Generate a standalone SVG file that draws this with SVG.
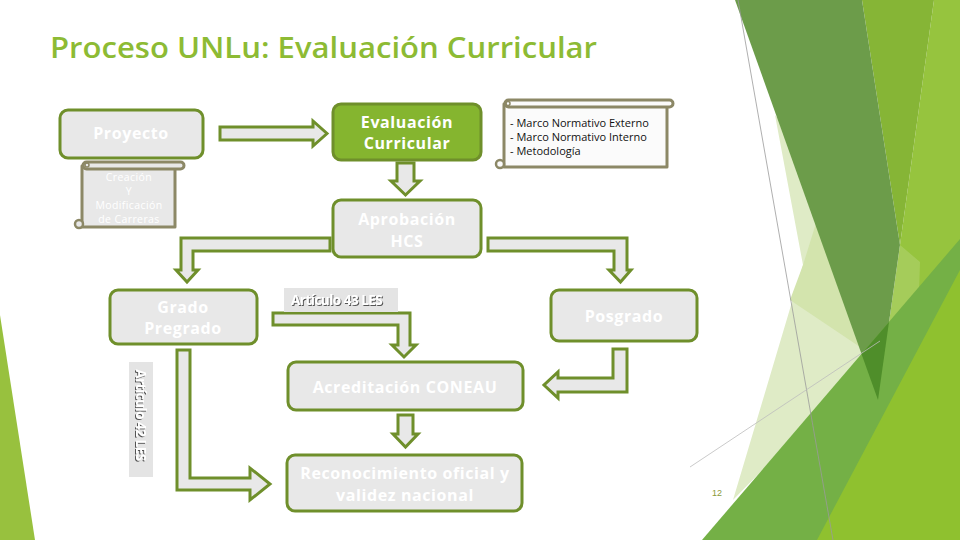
<svg xmlns="http://www.w3.org/2000/svg" width="960" height="540" viewBox="0 0 960 540">
<defs>
<style>
.node{fill:#e8e8e8;stroke:#6f8f2b;stroke-width:3}
.nt{font-family:"Open Sans","DejaVu Sans",sans-serif;font-weight:700;font-size:16px;fill:#ffffff;text-anchor:middle;letter-spacing:0.6px}
.conn{fill:#e8e8e8;stroke:#6f8f2b;stroke-width:3;stroke-linejoin:miter}
.scroll{fill:#e8e8e8;stroke:#8c8866;stroke-width:3;stroke-linejoin:round}
.lbl{fill:#e4e4e4}
.lt{font-family:"Open Sans","DejaVu Sans",sans-serif;font-weight:700;font-size:13.5px;fill:#ffffff;letter-spacing:-0.5px}
.st{font-family:"Open Sans","DejaVu Sans",sans-serif;font-size:11px;fill:#111111}
.sw{font-family:"Open Sans","DejaVu Sans",sans-serif;font-size:10.5px;fill:#ffffff;text-anchor:middle;letter-spacing:0.4px}
</style>
<filter id="sh" x="-10%" y="-30%" width="120%" height="160%">
<feDropShadow dx="1" dy="1" stdDeviation="0.4" flood-color="#444444" flood-opacity="0.9"/>
</filter>
</defs>
<rect width="960" height="540" fill="#ffffff"/>
<g id="background">
<polygon points="0,315 35,540 0,540" fill="#98c13e"/>
<polygon points="775,115 803,265 733,500 870,360 830,180" fill="#dfebc6"/>
<polygon points="803,265 790,300 860,347 817,220" fill="#d3e4ad"/>
<polygon points="900,245 934,0 960,0 960,540 817,540 878,400" fill="#96c43e"/>
<polygon points="862,0 934,0 900,245" fill="#86b536"/>
<polygon points="735,0 862,0 900,245 878,400" fill="#6c9c4a"/>
<polygon points="900,245 920,262 917,353 873,433 878,400" fill="#ffffff" fill-opacity="0.15"/>
<polygon points="702,540 960,239 960,540" fill="#74b046"/>
<polygon points="861.5,354 889,322 878,400" fill="#4f8e2a"/>
<polygon points="817,540 960,270 960,540" fill="#8fc12f"/>
<line x1="738" y1="0" x2="833" y2="540" stroke="#9a9a9a" stroke-width="0.8"/>
<line x1="690" y1="467" x2="880" y2="341" stroke="#bdbdbd" stroke-width="0.8"/>
</g>
<text x="50" y="58" font-family="'Open Sans','DejaVu Sans',sans-serif" font-weight="600" font-size="29" fill="#8dbb34" textLength="547" lengthAdjust="spacingAndGlyphs">Proceso UNLu: Evaluación Curricular</text>
<g id="connectors">
<polygon class="conn" points="220,127 313,127 313,121 327,133.5 313,146 313,140 220,140"/>
<polygon class="conn" points="397,163 414,163 414,181 420,181 405.5,195 391,181 397,181"/>
<polygon class="conn" points="330,238 181,238 181,270 176,270 187,282 198,270 193,270 193,251 330,251"/>
<polygon class="conn" points="488,238 627,238 627,270 631,270 620.5,282 609,270 614,270 614,251 488,251"/>
<polygon class="conn" points="273,313 410,313 410,345 416,345 404,357 392,345 398,345 398,325 273,325"/>
<polygon class="conn" points="613,349 627,349 627,392 558,392 558,398 544,385 558,372 558,378 613,378"/>
<polygon class="conn" points="398,415 413,415 413,434 418,434 405.5,447 393,434 398,434"/>
<polygon class="conn" points="177,350 190,350 190,478 250,478 250,468 270,484 250,500 250,490 177,490"/>
</g>
<g id="proyecto">
<rect class="node" x="60" y="110" width="143" height="48" rx="8"/>
<text class="nt" x="131" y="139">Proyecto</text>
</g>
<g id="creacion">
<path class="scroll" d="M82,166 L82,227 L175,227 L175,168 Z"/>
<rect class="scroll" x="83" y="162" width="101" height="7" rx="3.5"/>
<circle cx="79" cy="224" r="4" fill="#e8e8e8" stroke="#8c8866" stroke-width="2.5"/>
<circle cx="87" cy="165" r="2" fill="none" stroke="#8c8866" stroke-width="1.5"/>
<text class="sw" x="129" y="181">Creación</text>
<text class="sw" x="129" y="195">Y</text>
<text class="sw" x="129" y="209">Modificación</text>
<text class="sw" x="129" y="223">de Carreras</text>
</g>
<g id="evaluacion">
<rect class="node" x="333" y="104" width="148" height="56" rx="8" style="fill:#85b52f"/>
<text class="nt" x="407" y="128">Evaluación</text>
<text class="nt" x="407" y="149">Curricular</text>
</g>
<g id="marco">
<path class="scroll" d="M504,104 L504,167 L667,167 L667,106 Z" style="fill:#fbfbfb"/>
<rect class="scroll" x="505" y="100" width="168" height="7" rx="3.5" style="fill:#fbfbfb"/>
<circle cx="500" cy="164" r="4" fill="#fbfbfb" stroke="#8c8866" stroke-width="2.5"/>
<circle cx="508" cy="103.5" r="2" fill="none" stroke="#8c8866" stroke-width="1.5"/>
<text class="st" x="510" y="127">- Marco Normativo Externo</text>
<text class="st" x="510" y="141">- Marco Normativo Interno</text>
<text class="st" x="510" y="155">- Metodología</text>
</g>
<g id="aprobacion">
<rect class="node" x="333" y="200" width="148" height="57" rx="8"/>
<text class="nt" x="407" y="225">Aprobación</text>
<text class="nt" x="407" y="247">HCS</text>
</g>
<g id="grado">
<rect class="node" x="110" y="290" width="147" height="54" rx="8"/>
<text class="nt" x="183" y="313">Grado</text>
<text class="nt" x="183" y="334">Pregrado</text>
</g>
<g id="art43">
<rect class="lbl" x="284" y="288" width="114" height="24"/>
<text class="lt" x="291" y="305" filter="url(#sh)">Artículo 43 LES</text>
</g>
<g id="art42">
<rect class="lbl" x="129" y="362" width="24" height="115"/>
<text class="lt" x="141" y="415" text-anchor="middle" transform="rotate(90 141 415)" dy="4.5" filter="url(#sh)">Artículo 42 LES</text>
</g>
<g id="posgrado">
<rect class="node" x="551" y="290" width="146" height="51" rx="8"/>
<text class="nt" x="624" y="322">Posgrado</text>
</g>
<g id="acreditacion">
<rect class="node" x="288" y="362" width="235" height="48" rx="8"/>
<text class="nt" x="405" y="393">Acreditación CONEAU</text>
</g>
<g id="reconocimiento">
<rect class="node" x="287" y="455" width="235" height="56" rx="8"/>
<text class="nt" x="405" y="479">Reconocimiento oficial y</text>
<text class="nt" x="405" y="501">validez nacional</text>
</g>
<text x="717" y="496" font-family="'Liberation Sans',sans-serif" font-size="9" fill="#8a9a3a" text-anchor="middle">12</text>
</svg>
